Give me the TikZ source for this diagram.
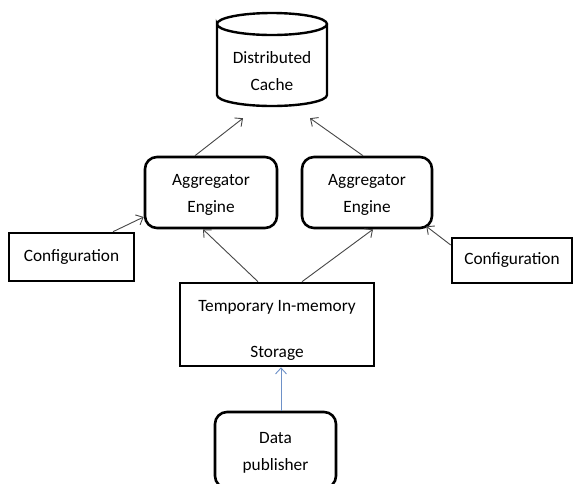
\documentclass[tikz,border=0pt]{standalone}
\usepackage{fontspec}
\setmainfont{Carlito}
\usetikzlibrary{arrows.meta}
\definecolor{linkgray}{RGB}{70,70,70}
\definecolor{linkblue}{RGB}{110,145,200}
\begin{document}
\begin{tikzpicture}[x=1pt,y=-1pt,
  txt/.style={font=\fontsize{17.3}{27}\selectfont, align=center, text=black},
  plainbox/.style={txt, draw, line width=2.6pt, inner sep=0pt},
  roundbox/.style={plainbox, rounded corners=12pt},
  conn/.style={draw=linkgray, line width=0.9pt, -{Straight Barb[length=6pt,width=11pt]}},
  bluelink/.style={conn, draw=linkblue}]
\clip (0,0) rectangle (574,483);
\useasboundingbox (0,0) rectangle (574,483);
\fill[white] (0,0) rectangle (574,483);

% distributed cache drawn as a cylinder: full top ellipse, sides, lower front arc
\draw[line width=2.4pt]
  (217,24) arc[start angle=180, end angle=360, x radius=55, y radius=11]
  arc[start angle=0, end angle=180, x radius=55, y radius=11]
  -- (217,95) arc[start angle=180, end angle=0, x radius=55, y radius=11] -- (327,24);
\node[txt, minimum width=110pt, minimum height=82pt, inner sep=0pt] (cache) at (272,71) {Distributed\\Cache};

% processing boxes
\node[roundbox, minimum width=132pt, minimum height=71pt] (agg1) at (211,192.5) {\rule{0pt}{16pt}Aggregator\\Engine};
\node[roundbox, minimum width=130pt, minimum height=71pt] (agg2) at (367,192.5) {\rule{0pt}{16pt}Aggregator\\Engine};
\node[plainbox, minimum width=194pt, minimum height=83pt] (store) at (277,324.5) {\rule{0pt}{23pt}Temporary In-memory\\[19pt]Storage};
\node[roundbox, minimum width=121pt, minimum height=76pt] (data) at (275.5,450) {\rule{0pt}{16pt}Data\\publisher};
\node[plainbox, minimum width=125pt, minimum height=48pt] (conf1) at (71.5,257) {Configuration};
\node[plainbox, minimum width=120pt, minimum height=45pt] (conf2) at (512,260.5) {Configuration};

% connectors
\draw[conn] ([xshift=-16pt]agg1.north) -- ([xshift=-29pt,yshift=-6pt]cache.south);
\draw[conn] ([xshift=-4pt]agg2.north) -- ([xshift=38pt,yshift=-6pt]cache.south);
\draw[conn] ([xshift=-19pt]store.north) -- ([xshift=-8pt]agg1.south);
\draw[conn] ([xshift=25pt]store.north) -- ([xshift=6pt]agg2.south);
\draw[conn] ([xshift=41.5pt]conf1.north) -- ([yshift=-24.5pt]agg1.west);
\draw[conn] ([yshift=15.5pt]conf2.west) -- ([xshift=-7pt,yshift=3pt]agg2.south east);
\draw[bluelink] ([xshift=5.5pt]data.north) -- ([xshift=4pt]store.south);
\end{tikzpicture}
\end{document}
